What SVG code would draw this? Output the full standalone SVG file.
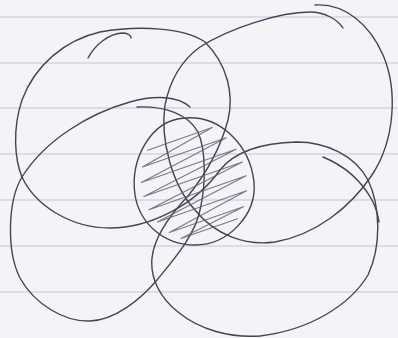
<svg xmlns="http://www.w3.org/2000/svg" width="398" height="338" viewBox="0 0 398 338">
  <style>
    .pen { fill: none; stroke: #48434f; stroke-width: 1.4; stroke-linecap: round; stroke-linejoin: round; }
    .hatch { fill: none; stroke: #67626e; stroke-width: 1.1; stroke-linecap: round; stroke-linejoin: round; opacity: 0.85; }
    .rule { stroke: #c6c4dd; stroke-width: 1.2; }
  </style>
  <rect x="0" y="0" width="398" height="338" fill="#f4f3f8"/>
  <g id="paper-rules">
    <line class="rule" x1="0" y1="17" x2="398" y2="17"/>
    <line class="rule" x1="0" y1="63" x2="398" y2="63"/>
    <line class="rule" x1="0" y1="108" x2="398" y2="108"/>
    <line class="rule" x1="0" y1="154" x2="398" y2="154"/>
    <line class="rule" x1="0" y1="200" x2="398" y2="200"/>
    <line class="rule" x1="0" y1="246" x2="398" y2="246"/>
    <line class="rule" x1="0" y1="292" x2="398" y2="292"/>
  </g>
  <g id="ellipse-top-left">
    <path class="pen" d="M 88,58 C 95,45 108,34 122,33 C 127,33 131,35 131,38"/>
    <path class="pen" d="M 188,196 C 205,175 220,150 228,120 C 234,95 228,65 205,42 C 185,28 140,25 100,32 C 65,40 35,65 22,100 C 12,130 15,160 22,177 C 35,205 70,228 110,228 C 150,228 195,205 220,170"/>
  </g>
  <g id="ellipse-top-right">
    <path class="pen" d="M 315,5 C 345,3 370,25 383,55 C 398,90 395,140 372,175 C 350,208 315,235 275,242 C 245,246 215,235 195,210 C 172,185 160,140 165,105 C 170,80 182,60 200,47 C 230,28 280,12 310,12 C 325,12 338,20 343,28"/>
  </g>
  <g id="ellipse-bottom-left">
    <path class="pen" d="M 190,107 C 178,96 155,95 130,102 C 90,113 45,140 22,177 C 8,200 6,250 20,278 C 35,305 65,322 90,321 C 115,320 140,300 157,280 C 175,258 195,235 200,210 C 206,185 206,150 198,132 C 188,114 165,106 137,107"/>
  </g>
  <g id="ellipse-bottom-right">
    <path class="pen" d="M 220,170 C 232,155 255,143 297,142 C 325,142 355,155 368,180 C 380,205 382,245 368,275 C 350,305 310,330 260,336 C 230,338 200,330 178,312 C 160,298 150,278 152,258 C 154,238 170,215 188,196"/>
    <path class="pen" d="M 323,157 C 345,166 362,182 372,200 C 376,208 378,215 379,222"/>
  </g>
  <g id="center-shaded">
    <path class="hatch" d="M 147.7,150.2 L 212.2,127.6 L 142.4,167.1 L 226.3,137.7 L 141.3,182.4 L 236.1,149.3 L 143.9,196.6 L 242.4,162.1 L 149,209.8 L 246.1,175.8 L 157.4,221.9 L 246.5,190.7 L 169.4,232.6 L 243.4,206.7 L 181,238.5 L 237.5,218.8"/>
    <path class="pen" d="M 185,118 C 220,115 250,145 254,182 C 257,215 228,245 195,245 C 165,245 140,225 135,195 C 130,160 150,120 185,118 Z"/>
  </g>
</svg>
